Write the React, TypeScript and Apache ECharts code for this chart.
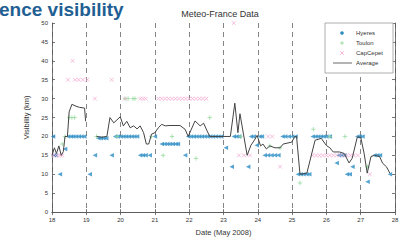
import React, { useEffect, useRef } from "react";
import * as echarts from "echarts";

const xTicks = [18, 28, 1];
const yTicks = [0, 50, 5];
const legendNames = ["Hyeres", "Toulon", "CapCepet", "Average"];

const hyeres: number[][] = [
  [18.03, 20], [18.05, 15], [18.1, 15], [18.23, 10], [18.38, 16.7], [18.47, 20], [18.55, 20], [18.62, 20],
  [18.7, 20], [18.78, 20], [18.86, 20], [18.94, 20], [19.1, 10], [19.25, 15], [19.35, 19.5], [19.42, 19.5],
  [19.5, 19.5], [19.58, 19.5], [19.74, 15], [19.84, 20], [19.92, 20], [20.0, 20], [20.08, 20], [20.16, 20],
  [20.24, 20], [20.32, 20], [20.4, 20], [20.48, 20], [20.57, 15], [20.65, 15], [20.73, 15], [20.85, 15],
  [21.0, 20], [21.2, 18], [21.28, 18], [21.36, 18], [21.44, 18], [21.52, 18], [21.6, 18], [21.67, 18],
  [21.88, 15], [21.97, 20], [22.05, 20], [22.13, 20], [22.21, 20], [22.29, 20], [22.37, 20], [22.45, 20],
  [22.53, 20], [22.61, 20], [22.69, 20], [22.77, 20], [22.85, 20], [22.93, 20], [23.07, 17], [23.24, 12],
  [23.3, 20], [23.38, 20], [23.46, 20], [23.72, 12], [23.8, 20], [23.88, 20], [23.97, 17.7], [24.05, 20],
  [24.12, 20], [24.2, 15], [24.3, 15], [24.4, 15], [24.5, 15], [24.6, 15], [24.72, 20], [24.8, 20],
  [24.9, 20], [25.0, 20], [25.1, 20], [25.17, 10], [25.25, 10], [25.33, 10], [25.42, 10], [25.5, 10],
  [25.6, 20], [25.68, 20], [25.76, 20], [25.84, 20], [25.92, 20], [26.0, 20], [26.1, 20], [26.3, 13],
  [26.36, 15], [26.44, 15], [26.52, 15], [26.6, 10], [26.68, 10], [26.76, 12], [26.9, 20], [26.97, 20],
  [27.05, 20], [27.2, 8], [27.4, 15], [27.48, 15], [27.56, 15], [27.85, 10],
];

const toulon: number[][] = [
  [18.3, 18], [18.38, 20], [18.5, 25], [18.58, 25], [18.66, 25], [19.3, 20], [19.9, 20], [20.13, 30],
  [20.22, 30], [20.36, 30], [20.42, 30], [20.9, 20], [21.24, 15], [21.5, 20], [22.2, 14.2], [22.6, 25],
  [23.5, 20], [24.35, 17.5], [24.65, 17], [25.23, 7.7], [25.62, 21.9], [26.1, 20], [26.54, 20], [27.2, 12],
];

const capCepet: number[][] = [
  [18.03, 15], [18.1, 15], [18.17, 15], [18.24, 15], [18.3, 15], [18.47, 35], [18.6, 40], [18.67, 35],
  [18.78, 35], [18.9, 35], [19.03, 35], [19.25, 30], [19.74, 35], [20.13, 30], [20.57, 30], [20.65, 30],
  [20.73, 30], [21.1, 30], [21.2, 30], [21.3, 30], [21.4, 30], [21.5, 30], [21.6, 30], [21.7, 30],
  [21.8, 30], [21.9, 30], [22.0, 30], [22.1, 30], [22.2, 30], [22.3, 30], [22.4, 30], [22.5, 30],
  [23.3, 50], [23.45, 15], [23.6, 15], [23.77, 15], [24.3, 20], [24.42, 20], [24.65, 12], [25.6, 15],
  [25.7, 15], [25.8, 15], [25.9, 15], [26.0, 15], [26.1, 15], [26.2, 15], [26.3, 15], [26.4, 15],
  [26.5, 15], [26.6, 15], [26.7, 15], [26.8, 15], [26.92, 15], [27.27, 10],
];

const average: (number | string)[][] = [
  [18.0, 15], [18.07, 17], [18.13, 15.5], [18.2, 17.5], [18.27, 15], [18.33, 16], [18.38, 20], [18.45, 20],
  [18.5, 26.5], [18.58, 28.5], [18.7, 28], [18.8, 27.7], [18.95, 27.5], [18.98, 24], [19.1, "-"],
  [19.3, 20], [19.45, 19.8], [19.6, 20], [19.69, 25], [19.8, 23.6], [19.99, 25.2], [20.08, 22.8],
  [20.18, 24], [20.28, 22.3], [20.38, 22.8], [20.48, 22], [20.57, 22.8], [20.67, 21], [20.75, 18],
  [20.82, 18], [20.9, 20.6], [21.0, 21], [21.1, 22.3], [21.2, 23.2], [21.3, 22.8], [21.44, 22.9],
  [21.73, 22.9], [21.88, 21.9], [21.97, 20], [22.17, 24.1], [22.32, 22.8], [22.42, 23.5], [22.52, 21.5],
  [22.6, 20], [23.2, 20], [23.33, 28.8], [23.42, 21], [23.48, 26], [23.69, 15], [23.8, 17.7], [23.9, 19],
  [23.98, 20.3], [24.08, 17.5], [24.15, 18], [24.25, 16.7], [24.35, 17.5], [24.5, 17], [24.65, 17],
  [24.74, 18], [24.99, 18.5], [25.08, 20], [25.13, 20], [25.23, 10], [25.43, 10.3], [25.67, 19],
  [25.85, 19.5], [26.0, 17.6], [26.1, 17], [26.2, 15.9], [26.38, 15.9], [26.52, 15.5], [26.66, 13],
  [26.75, 14.2], [26.9, 19.8], [27.0, 19.8], [27.1, 15.5], [27.19, 10.3], [27.3, 14.7], [27.4, 15],
  [27.55, 14.7], [27.64, 12.9], [27.75, 12], [27.85, 10.3],
];

const BLUE = "#2b8cc4";
const GREEN = "#8fd89a";
const PINK = "#f3a6cf";
const LINE = "#444";
const PLUS = "path://M0,5L10,5M5,0L5,10";
const CROSS = "path://M0,0L10,10M10,0L0,10";

export default function App() {
  const ref = useRef<HTMLDivElement>(null);
  useEffect(() => {
    if (!ref.current) return;
    const chart = echarts.init(ref.current, null, { renderer: "svg" });
    const axisCommon = {
      axisLine: { show: true, lineStyle: { color: "#555", width: 0.8 } },
      axisTick: { show: true, inside: true, length: 3, lineStyle: { color: "#555", width: 0.8 } },
    };
    const lx = 342;
    const ly = [33, 43, 53, 63];
    const legendGraphics: any[] = [
      {
        type: "rect", z: 3, shape: { x: 325, y: 23, width: 68, height: 50 },
        style: { fill: "#fff", stroke: "#999", lineWidth: 0.8 },
      },
      { type: "circle", z: 4, shape: { cx: lx, cy: ly[0], r: 1.8 }, style: { fill: BLUE } },
      { type: "line", z: 4, shape: { x1: lx - 2, y1: ly[1], x2: lx + 2, y2: ly[1] }, style: { stroke: GREEN, lineWidth: 0.8 } },
      { type: "line", z: 4, shape: { x1: lx, y1: ly[1] - 2, x2: lx, y2: ly[1] + 2 }, style: { stroke: GREEN, lineWidth: 0.8 } },
      { type: "line", z: 4, shape: { x1: lx - 1.8, y1: ly[2] - 1.8, x2: lx + 1.8, y2: ly[2] + 1.8 }, style: { stroke: PINK, lineWidth: 0.8 } },
      { type: "line", z: 4, shape: { x1: lx - 1.8, y1: ly[2] + 1.8, x2: lx + 1.8, y2: ly[2] - 1.8 }, style: { stroke: PINK, lineWidth: 0.8 } },
      { type: "line", z: 4, shape: { x1: 333, y1: ly[3], x2: 352, y2: ly[3] }, style: { stroke: LINE, lineWidth: 0.8 } },
      ...legendNames.map((n, i) => ({
        type: "text", z: 4, x: 356, y: ly[i],
        style: { text: n, fontSize: 6, fill: "#333", fontFamily: "Liberation Sans", textVerticalAlign: "middle" },
      })),
    ];
    chart.setOption({
      animation: false,
      backgroundColor: "#fff",
      grid: { left: 52, right: 7, top: 23, bottom: 24.5 },
      xAxis: [
        {
          type: "value", min: xTicks[0], max: xTicks[1], interval: xTicks[2], ...axisCommon,
          axisLabel: { fontSize: 6, color: "#333", margin: 5, fontFamily: "Liberation Sans" },
          splitLine: { show: true, lineStyle: { color: "#666", width: 0.8, type: [5, 4] } },
          name: "Date (May 2008)", nameLocation: "middle", nameGap: 14,
          nameTextStyle: { fontSize: 7.5, color: "#333", fontFamily: "Liberation Sans" },
        },
        {
          type: "value", position: "top", min: xTicks[0], max: xTicks[1], interval: xTicks[2], ...axisCommon,
          axisLabel: { show: false }, splitLine: { show: false },
        },
      ],
      yAxis: [
        {
          type: "value", min: yTicks[0], max: yTicks[1], interval: yTicks[2], ...axisCommon,
          axisLabel: { fontSize: 6, color: "#333", margin: 4, fontFamily: "Liberation Sans" },
          splitLine: { show: false },
          name: "Visibility (km)", nameLocation: "middle", nameGap: 20,
          nameTextStyle: { fontSize: 7.5, color: "#333", fontFamily: "Liberation Sans" },
        },
        {
          type: "value", position: "right", min: yTicks[0], max: yTicks[1], interval: yTicks[2], ...axisCommon,
          axisLabel: { show: false }, splitLine: { show: false },
        },
      ],
      graphic: [
        ...legendGraphics,
        {
          type: "text", x: -1, y: 0, z: 10,
          style: {
            text: "ence visibility", fontSize: 19, fontWeight: "bold", fill: "#1f5f93",
            fontFamily: "Liberation Sans", textVerticalAlign: "top",
          },
        },
        {
          type: "text", x: 220, y: 14, z: 10,
          style: {
            text: "Meteo-France Data", fontSize: 9, fill: "#333", fontFamily: "Liberation Sans",
            textAlign: "center", textVerticalAlign: "middle",
          },
        },
      ],
      series: [
        {
          name: "Hyeres", type: "scatter", data: hyeres, symbol: "triangle", symbolRotate: 90, symbolSize: 4.5,
          itemStyle: { color: BLUE },
        },
        {
          name: "Toulon", type: "scatter", data: toulon, symbol: PLUS, symbolSize: 4.5,
          itemStyle: { color: "transparent", borderColor: GREEN, borderWidth: 0.9 },
        },
        {
          name: "CapCepet", type: "scatter", data: capCepet, symbol: CROSS, symbolSize: 3.8,
          itemStyle: { color: "transparent", borderColor: PINK, borderWidth: 0.9 },
        },
        {
          name: "Average", type: "line", data: average, showSymbol: false, symbol: "none",
          lineStyle: { color: LINE, width: 1 }, itemStyle: { color: LINE }, connectNulls: false,
        },
      ],
    });
    return () => chart.dispose();
  }, []);
  return <div ref={ref} style={{ width: 402, height: 241, position: "absolute", left: 0, top: 0 }} />;
}
